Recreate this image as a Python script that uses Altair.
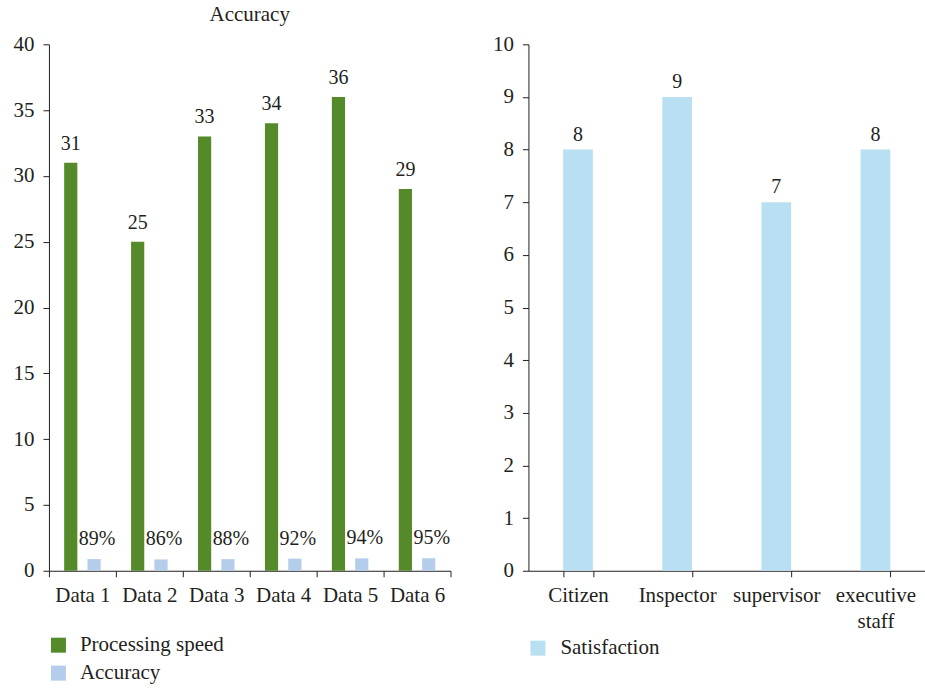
import altair as alt
import pandas as pd

# ---- data ----
datasets = ["Data 1", "Data 2", "Data 3", "Data 4", "Data 5", "Data 6"]
processing_speed = [31, 25, 33, 34, 36, 29]
accuracy = [0.89, 0.86, 0.88, 0.92, 0.94, 0.95]

roles = ["Citizen", "Inspector", "supervisor", "executive staff"]
satisfaction = [8, 9, 7, 8]

FONT = "Liberation Serif"
INK = "#231f20"
GREEN = "#548a2a"
BLUE = "#b3cdea"
SKY = "#b8e0f2"
AXIS_FS = 21

left_rows = []
for d, p, a in zip(datasets, processing_speed, accuracy):
    left_rows.append({"cat": d, "series": "Processing speed", "value": p, "label": f"{p}"})
    left_rows.append({"cat": d, "series": "Accuracy", "value": a, "label": f"{round(a * 100)}%"})
left_df = pd.DataFrame(left_rows)

right_df = pd.DataFrame({"role": roles, "value": satisfaction, "series": "Satisfaction"})

series_order = ["Processing speed", "Accuracy"]

# ---- left panel: grouped bars ----
x_left = alt.X(
    "cat:N", sort=datasets, title=None,
    scale=alt.Scale(paddingInner=0, paddingOuter=0),
    axis=alt.Axis(labelAngle=0, tickBand="extent", tickSize=6, labelPadding=8,
                  labelFontSize=AXIS_FS, domainColor=INK, tickColor=INK, labelColor=INK),
)
xoff = alt.XOffset("series:N", sort=series_order,
                   scale=alt.Scale(paddingInner=0.435, paddingOuter=0.652))
y_left = alt.Y(
    "value:Q", title=None,
    scale=alt.Scale(domain=[0, 40], nice=False),
    axis=alt.Axis(values=list(range(0, 41, 5)), tickSize=6, labelPadding=9, grid=False,
                  labelFontSize=AXIS_FS, domainColor=INK, tickColor=INK, labelColor=INK,
                  minExtent=49, maxExtent=49),
)

base_left = alt.Chart(left_df).encode(x=x_left, xOffset=xoff, y=y_left)

bars_left = base_left.mark_bar().encode(
    color=alt.Color(
        "series:N", sort=series_order,
        scale=alt.Scale(domain=series_order, range=[GREEN, BLUE]),
        legend=alt.Legend(title=None, orient="none", legendX=-1, legendY=591,
                          direction="vertical", symbolType="square", symbolSize=225,
                          symbolStrokeWidth=0, labelFontSize=21, labelOffset=11,
                          rowPadding=6, labelColor=INK),
    )
)
speed_labels = base_left.mark_text(baseline="bottom", dy=-9, fontSize=20, color=INK).encode(
    text="label:N"
).transform_filter(alt.datum.series == "Processing speed")
acc_labels = base_left.mark_text(baseline="bottom", dy=-10, dx=3, fontSize=20, color=INK).encode(
    text="label:N"
).transform_filter(alt.datum.series == "Accuracy")

left = alt.layer(bars_left, speed_labels, acc_labels).properties(
    width=402, height=527,
    title=alt.TitleParams("Accuracy", fontSize=21, font=FONT, fontWeight="normal",
                          color=INK, anchor="middle", offset=12, dy=4),
)

# ---- right panel: satisfaction bars ----
x_right = alt.X(
    "role:N", sort=roles, title=None,
    scale=alt.Scale(paddingInner=0.7, paddingOuter=0.35),
    axis=alt.Axis(labelAngle=0, tickBand="extent", tickSize=6, labelPadding=8,
                  labelFontSize=AXIS_FS, domainColor=INK, tickColor=INK, labelColor=INK,
                  labelLineHeight=26,
                  labelExpr="datum.label == 'executive staff' ? ['executive', 'staff'] : datum.label"),
)
y_right = alt.Y(
    "value:Q", title=None,
    scale=alt.Scale(domain=[0, 10], nice=False),
    axis=alt.Axis(values=list(range(0, 11)), tickSize=6, labelPadding=9, grid=False,
                  labelFontSize=AXIS_FS, domainColor=INK, tickColor=INK, labelColor=INK,
                  minExtent=40, maxExtent=40),
)
base_right = alt.Chart(right_df).encode(x=x_right, y=y_right)
bars_right = base_right.mark_bar().encode(
    color=alt.Color(
        "series:N",
        scale=alt.Scale(domain=["Satisfaction"], range=[SKY]),
        legend=alt.Legend(title=None, orient="none", legendX=-1, legendY=594,
                          symbolType="square", symbolSize=225, symbolStrokeWidth=0,
                          labelFontSize=21, labelOffset=12, labelColor=INK),
    )
)
right_labels = base_right.mark_text(baseline="bottom", dy=-5, fontSize=20, color=INK).encode(
    text="value:Q"
)
right = alt.layer(bars_right, right_labels).properties(
    width=397, height=527,
    title=alt.TitleParams(" ", fontSize=21, font=FONT, offset=12),
)

chart = (
    alt.hconcat(left, right, spacing=37)
    .resolve_scale(color="independent")
    .properties(padding={"left": 0, "top": 0, "right": 0, "bottom": 0})
    .configure(font=FONT)
    .configure_view(stroke=None)
    .configure_axis(labelFont=FONT)
    .configure_legend(labelFont=FONT)
)

chart.save("out.html", embed_options={"renderer": "svg", "actions": False})
